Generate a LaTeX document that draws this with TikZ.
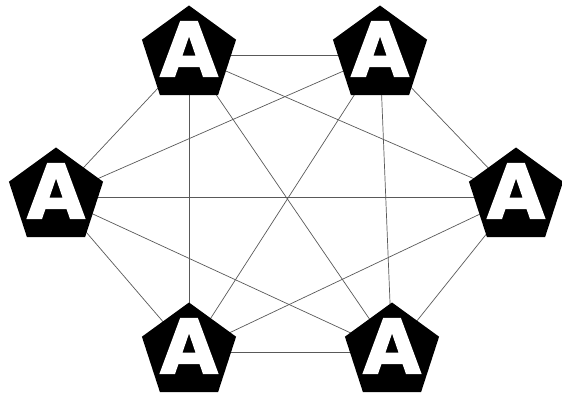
\documentclass[tikz,border=0pt]{standalone}
\usepackage{fontspec}
\setmainfont{DejaVu Sans}
\newfontfamily\heavyfont[FakeBold=1.8]{DejaVu Sans}
\usetikzlibrary{shapes.geometric}
\tikzset{
  x=1pt,y=1pt,
  penta/.style={regular polygon, regular polygon sides=5, minimum size=99pt, inner sep=0pt, fill=black, draw=none},
  letter/.style={text=white, font=\heavyfont\fontsize{75}{75}\selectfont\bfseries, inner sep=0pt},
  edge/.style={draw=black!65, line width=0.7pt}
}
\begin{document}
\begin{tikzpicture}
\useasboundingbox (0,0) rectangle (562,396);
\coordinate (c1) at (189,341);
\coordinate (c2) at (380,341);
\coordinate (c3) at (56,199);
\coordinate (c4) at (516,199);
\coordinate (c5) at (189,44);
\coordinate (c6) at (392,44);
\foreach \a/\b in {c1/c2,c1/c3,c1/c4,c1/c5,c1/c6,c2/c3,c2/c4,c2/c5,c2/c6,c3/c4,c3/c5,c3/c6,c4/c5,c4/c6,c5/c6}
  \draw[edge] (\a) -- (\b);
\foreach \c in {c1,c2,c3,c4,c5,c6}{
  \node[penta] (p\c) at (\c) {};
  \node[letter] (t\c) at ([yshift=6pt]\c) {A};
}
\end{tikzpicture}
\end{document}
